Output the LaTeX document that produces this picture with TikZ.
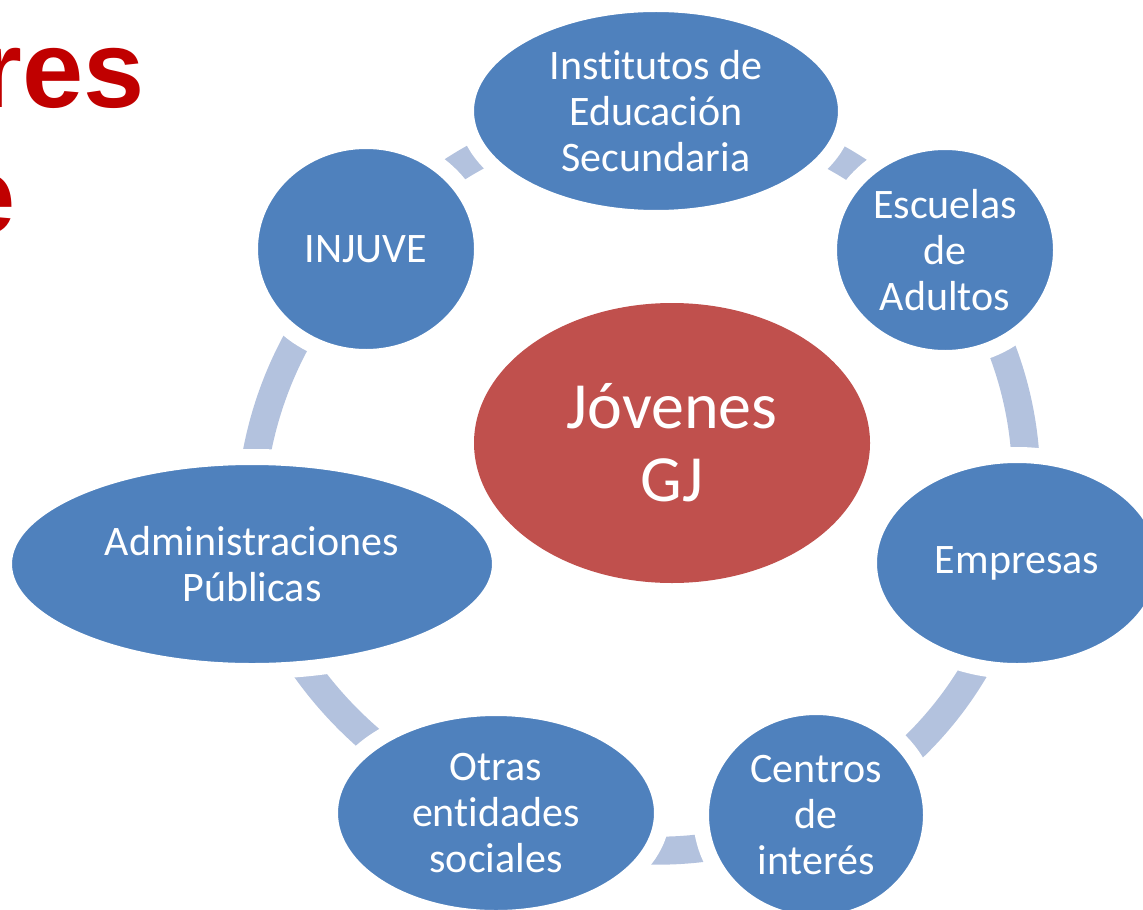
\documentclass[tikz,border=0pt]{standalone}
\usepackage{fontspec}
\setmainfont{Carlito}[Ligatures=NoCommon]
\newfontfamily\arialfont{Liberation Sans}
\usetikzlibrary{shapes.geometric,backgrounds}
\definecolor{nodeblue}{HTML}{4F81BD}
\definecolor{centerred}{HTML}{C0504D}
\definecolor{ringblue}{HTML}{B3C2DE}
\definecolor{titlered}{HTML}{C00000}
\begin{document}
\begin{tikzpicture}[x=0.5pt,y=-0.5pt,
  member/.style={ellipse, fill=nodeblue, draw=white, line width=8pt, inner sep=0pt,
    text=white, font=\fontsize{21}{23}\selectfont, align=center},
  core/.style={ellipse, fill=centerred, draw=none, inner sep=0pt,
    text=white, font=\fontsize{33}{36.5}\selectfont, align=center},
  ring/.style={draw=ringblue, line width=14pt, bend left=25.7, looseness=0.9},
  title/.style={anchor=base east, inner sep=0pt, text=titlered,
    font=\arialfont\bfseries\fontsize{55}{62}\selectfont}]
\useasboundingbox (0,0) rectangle (1143,909);
\node[title] (t1) at (145,108) {res};
\node[title] (t2) at (16,233) {e};
\node[core, minimum width=198pt, minimum height=140pt] (jov) at (672,443) {Jóvenes\\GJ};
\node[member, minimum width=190pt, minimum height=107pt] (inst) at (656,111) {Institutos de\\Educación\\Secundaria};
\node[member, minimum width=116pt, minimum height=108pt] (esc) at (945,250) {Escuelas\\de\\Adultos};
\node[member, minimum width=148pt, minimum height=108pt] (emp) at (1017,563) {Empresas};
\node[member, minimum width=115pt, minimum height=108pt] (cen) at (816,815) {Centros\\de\\interés};
\node[member, minimum width=166pt, minimum height=105pt] (otr) at (496,813) {Otras\\entidades\\sociales};
\node[member, minimum width=248pt, minimum height=107pt] (adm) at (252,564) {Administraciones\\Públicas};
\node[member, minimum width=116pt, minimum height=108pt] (inj) at (366,249) {INJUVE};
\begin{scope}[on background layer]
\draw[ring] (inst.center) to (esc.center);
\draw[ring] (esc.center) to (emp.center);
\draw[ring] (emp.center) to (cen.center);
\draw[ring] (cen.center) to (otr.center);
\draw[ring] (otr.center) to (adm.center);
\draw[ring] (adm.center) to (inj.center);
\draw[ring] (inj.center) to (inst.center);
\end{scope}
\end{tikzpicture}
\end{document}
